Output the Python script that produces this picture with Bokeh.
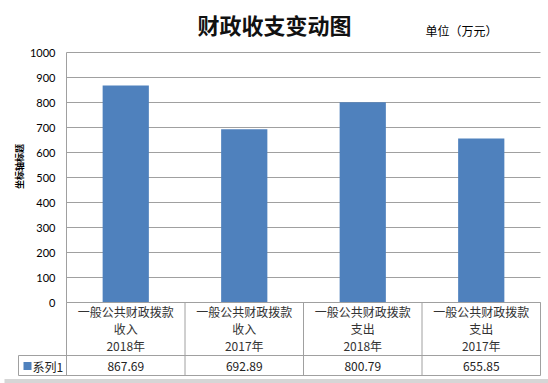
import numpy as np
from bokeh.plotting import figure
from bokeh.models import Range1d, FixedTicker, LinearAxis, ColumnDataSource
from bokeh.core.properties import value
from bokeh.embed import file_html
from bokeh.resources import INLINE

# ---------------- data ----------------
categories = [
    "一般公共财政拨款\n收入\n2018年",
    "一般公共财政拨款\n收入\n2017年",
    "一般公共财政拨款\n支出\n2018年",
    "一般公共财政拨款\n支出\n2017年",
]
values = [867.69, 692.89, 800.79, 655.85]
series_name = "系列1"
y_ticks = [0, 100, 200, 300, 400, 500, 600, 700, 800, 900, 1000]
title_text = "财政收支变动图"
unit_text = "单位（万元）"
axis_title = "坐标轴标题"

# ---------------- style / layout ----------------
BAR = "#4F81BD"
GRID = "#a0a0a0"
CJK = "Noto Sans CJK SC"
W, H = 548, 383
X0_PX, COL_PX = 66, 118.5      # pixel x of the value axis, width of one category column
Y0_PX, Y_PER_PX = 302, 4.0     # pixel y of value 0, value units per pixel


def dx(px):
    return (px - X0_PX) / COL_PX


def dy(py):
    return (Y0_PX - py) * Y_PER_PX


n = len(categories)
xs = np.arange(n) + 0.5
src = ColumnDataSource(dict(x=xs, top=values, cat=categories,
                            lab=[f"{v:.2f}" for v in values]))

p = figure(width=W, height=H, x_range=Range1d(dx(0), dx(W)), y_range=Range1d(dy(H), dy(0)),
           output_backend="svg", toolbar_location=None,
           x_axis_location=None, y_axis_location=None,
           min_border=0, min_border_left=0, min_border_right=0,
           min_border_top=0, min_border_bottom=0)
p.outline_line_color = None
p.grid.visible = False
p.background_fill_color = "white"
p.border_fill_color = "white"

# value axis drawn at x = 0
yax = LinearAxis(ticker=FixedTicker(ticks=y_ticks), fixed_location=0, bounds=(0, 1000))
yax.axis_line_color = GRID
yax.major_tick_line_color = None
yax.minor_tick_line_color = None
yax.major_tick_out = 0
yax.major_tick_in = 0
yax.major_label_standoff = 11
yax.major_label_text_font = "Lato"
yax.major_label_text_font_size = "11px"
yax.major_label_text_color = "#000000"
p.add_layout(yax, "left")

# horizontal gridlines
p.segment(x0=[0] * len(y_ticks), x1=[n] * len(y_ticks), y0=y_ticks, y1=y_ticks,
          line_color=GRID, line_width=1)

# bars
p.vbar(x="x", top="top", width=0.39, source=src, fill_color=BAR, line_color=None)

# titles
p.text(x=[dx(274)], y=[dy(23)], text=[title_text], text_font=value(CJK),
       text_font_size="22px", text_font_style="bold", text_align="center",
       text_baseline="middle", text_color="#111111")
p.text(x=[dx(461)], y=[dy(30)], text=[unit_text], text_font=value(CJK),
       text_font_size="12px", text_align="center", text_baseline="middle",
       text_color="#000000")
p.text(x=[dx(19)], y=[dy(166)], text=[axis_title], angle=np.pi / 2,
       text_font=value(CJK), text_font_size="9px", text_font_style="bold",
       text_align="center", text_baseline="middle", text_color="#000000")

# ---------------- data table ----------------
LEG = dx(18)
ROW = dy(355)
BOTTOM = dy(375)
hx0 = [0, LEG, LEG]
hx1 = [n, n, n]
hy = [0, ROW, BOTTOM]
p.segment(x0=hx0, x1=hx1, y0=hy, y1=hy, line_color=GRID, line_width=1)
vx = list(range(n + 1)) + [LEG]
vy0 = [0] * (n + 1) + [ROW]
vy1 = [BOTTOM] * (n + 2)
p.segment(x0=vx, x1=vx, y0=vy0, y1=vy1, line_color=GRID, line_width=1)

p.text(x="x", y=dy(327.5), text="cat", source=src, text_align="center",
       text_baseline="middle", text_font=value(CJK), text_font_size="12px",
       text_line_height=1.0, text_color="#333333")
p.text(x="x", y=dy(365.5), text="lab", source=src, text_align="center",
       text_baseline="middle", text_font=value(CJK), text_font_size="12px",
       text_color="#222222")
p.scatter(x=[dx(27)], y=[dy(365.5)], marker="square", size=8,
          fill_color=BAR, line_color=None)
p.text(x=[dx(32)], y=[dy(365.5)], text=[series_name], text_align="left",
       text_baseline="middle", text_font=value(CJK), text_font_size="12px",
       text_color="#222222")

# chart-border shadow along the bottom
p.segment(x0=[dx(4)], x1=[dx(W)], y0=[dy(380.5)], y1=[dy(380.5)],
          line_color="#d6d6d6", line_width=4)

open("out.html", "w").write(file_html(p, INLINE))
